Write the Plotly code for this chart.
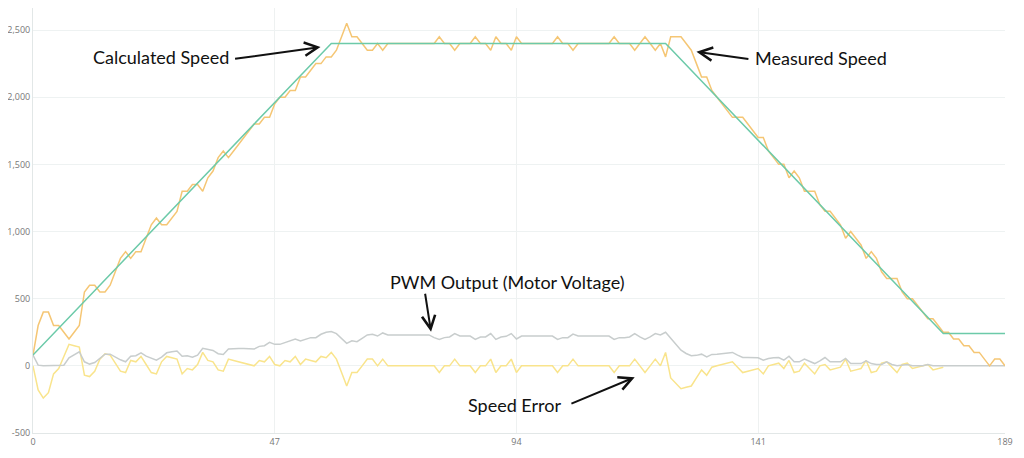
import plotly.graph_objects as go

# sample index (x axis)
sample_index = list(range(190))

calculated_speed = [
    80, 120, 160, 200, 240, 280, 320, 360, 400, 440,
    480, 520, 560, 600, 640, 680, 720, 760, 800, 840,
    880, 920, 960, 1000, 1040, 1080, 1120, 1160, 1200, 1240,
    1280, 1320, 1360, 1400, 1440, 1480, 1520, 1560, 1600, 1640,
    1680, 1720, 1760, 1800, 1840, 1880, 1920, 1960, 2000, 2040,
    2080, 2120, 2160, 2200, 2240, 2280, 2320, 2360, 2400, 2400,
    2400, 2400, 2400, 2400, 2400, 2400, 2400, 2400, 2400, 2400,
    2400, 2400, 2400, 2400, 2400, 2400, 2400, 2400, 2400, 2400,
    2400, 2400, 2400, 2400, 2400, 2400, 2400, 2400, 2400, 2400,
    2400, 2400, 2400, 2400, 2400, 2400, 2400, 2400, 2400, 2400,
    2400, 2400, 2400, 2400, 2400, 2400, 2400, 2400, 2400, 2400,
    2400, 2400, 2400, 2400, 2400, 2400, 2400, 2400, 2400, 2400,
    2400, 2400, 2400, 2400, 2360, 2320, 2280, 2240, 2200, 2160,
    2120, 2080, 2040, 2000, 1960, 1920, 1880, 1840, 1800, 1760,
    1720, 1680, 1640, 1600, 1560, 1520, 1480, 1440, 1400, 1360,
    1320, 1280, 1240, 1200, 1160, 1120, 1080, 1040, 1000, 960,
    920, 880, 840, 800, 760, 720, 680, 640, 600, 560,
    520, 480, 440, 400, 360, 320, 280, 240, 240, 240,
    240, 240, 240, 240, 240, 240, 240, 240, 240, 240,
]

measured_speed = [
    80, 300, 400, 400, 300, 300, 250, 200, 250, 300,
    550, 600, 600, 550, 550, 600, 700, 800, 850, 800,
    850, 850, 950, 1050, 1100, 1050, 1050, 1100, 1150, 1300,
    1300, 1350, 1350, 1300, 1400, 1450, 1550, 1600, 1550, 1600,
    1650, 1700, 1750, 1800, 1800, 1850, 1850, 1950, 2000, 2000,
    2050, 2050, 2150, 2150, 2200, 2250, 2250, 2300, 2300, 2350,
    2450, 2550, 2450, 2450, 2400, 2350, 2350, 2400, 2350, 2400,
    2400, 2400, 2400, 2400, 2400, 2400, 2400, 2400, 2400, 2450,
    2400, 2400, 2350, 2400, 2400, 2400, 2450, 2400, 2400, 2350,
    2450, 2400, 2400, 2350, 2450, 2400, 2400, 2400, 2400, 2400,
    2400, 2400, 2450, 2400, 2400, 2350, 2400, 2400, 2400, 2400,
    2400, 2400, 2400, 2450, 2400, 2400, 2400, 2350, 2400, 2450,
    2400, 2350, 2400, 2300, 2450, 2450, 2450, 2400, 2350, 2250,
    2150, 2150, 2050, 2000, 1950, 1900, 1850, 1850, 1850, 1800,
    1750, 1700, 1700, 1600, 1550, 1500, 1500, 1400, 1450, 1400,
    1300, 1300, 1300, 1200, 1150, 1150, 1100, 1050, 950, 1000,
    950, 900, 800, 850, 800, 700, 650, 650, 650, 550,
    500, 500, 450, 400, 350, 350, 300, 250, 250, 200,
    200, 150, 150, 100, 100, 50, 0, 50, 50, 0,
]

pwm_output = [
    80, 5, 0, 0, 0, 0, 5, 60, 85, 105,
    30, 13, 25, 55, 87, 87, 65, 45, 30, 72,
    75, 97, 72, 55, 42, 65, 97, 105, 110, 72,
    75, 65, 80, 130, 120, 115, 90, 85, 125, 130,
    130, 130, 128, 125, 145, 150, 175, 160, 160, 175,
    185, 200, 185, 200, 210, 210, 235, 250, 255, 240,
    200, 167, 187, 180, 205, 230, 235, 222, 245, 230,
    230, 230, 230, 230, 230, 230, 230, 230, 210, 197,
    210, 215, 240, 222, 222, 222, 197, 215, 215, 240,
    197, 215, 220, 240, 200, 222, 222, 222, 222, 222,
    222, 222, 197, 210, 210, 236, 222, 222, 222, 222,
    222, 222, 222, 197, 210, 210, 215, 240, 215, 197,
    215, 240, 230, 250, 205, 155, 117, 92, 75, 78,
    87, 67, 85, 87, 92, 92, 100, 80, 62, 62,
    60, 60, 42, 55, 60, 62, 42, 72, 30, 30,
    50, 35, 17, 37, 62, 30, 30, 30, 55, 17,
    17, 17, 37, 17, 10, 10, 30, 10, 0, 5,
    10, 0, 0, 0, 10, 0, 0, 0, 0, 0,
    0, 0, 0, 0, 0, 0, 0, 0, 0, 0,
]

speed_error = [
    0, -180, -240, -200, -60, -20, 70, 160, 150, 140,
    -70, -80, -40, 50, 90, 80, 20, -40, -50, 40,
    30, 70, 10, -50, -60, 30, 70, 60, 50, -60,
    -20, -30, 10, 100, 40, 30, -30, -40, 50, 40,
    30, 20, 10, 0, 40, 30, 70, 10, 0, 40,
    30, 70, 10, 50, 40, 30, 70, 60, 100, 50,
    -50, -150, -50, -50, 0, 50, 50, 0, 50, 0,
    0, 0, 0, 0, 0, 0, 0, 0, 0, -50,
    0, 0, 50, 0, 0, 0, -50, 0, 0, 50,
    -50, 0, 0, 50, -50, 0, 0, 0, 0, 0,
    0, 0, -50, 0, 0, 50, 0, 0, 0, 0,
    0, 0, 0, -50, 0, 0, 0, 50, 0, -50,
    0, 50, 0, 100, -90, -130, -170, -160, -150, -90,
    -30, -70, -10, 0, 10, 20, 30, -10, -50, -40,
    -30, -20, -60, 0, 10, 20, -20, 40, -50, -40,
    20, -20, -60, 0, 10, -30, -20, -10, 50, -40,
    -30, -20, 40, -50, -40, 20, 30, -10, -50, 10,
    20, -20, -10, 0, 10, -30, -20, -10,
]

y_tick_values = [-500, 0, 500, 1000, 1500, 2000, 2500]
y_tick_labels = ["-500", "0", "500", "1,000", "1,500", "2,000", "2,500"]
x_tick_values = [0, 47, 94, 141, 189]
x_tick_labels = ["0", "47", "94", "141", "189"]

fig = go.Figure()
fig.add_trace(go.Scatter(x=sample_index[:len(speed_error)], y=speed_error, mode="lines",
                         line=dict(color="#f9e48c", width=1.5), name="Speed Error"))
fig.add_trace(go.Scatter(x=sample_index, y=pwm_output, mode="lines",
                         line=dict(color="#c8cdcd", width=1.5), name="PWM Output"))
fig.add_trace(go.Scatter(x=sample_index, y=measured_speed, mode="lines",
                         line=dict(color="#f5c674", width=1.5), name="Measured Speed"))
fig.add_trace(go.Scatter(x=sample_index, y=calculated_speed, mode="lines",
                         line=dict(color="#6ccaa9", width=1.5), name="Calculated Speed"))

text_font = dict(family="Lato, Open Sans, sans-serif", size=18, color="#111111")

# text labels
labels = [
    ("Calculated Speed", 24.8, 2299),
    ("Measured Speed", 153.2, 2292),
    ("PWM Output (Motor Voltage)", 92.2, 625),
    ("Speed Error", 93.6, -294),
]
for txt, lx, ly in labels:
    fig.add_annotation(x=lx, y=ly, xref="x", yref="y", text=txt, showarrow=False,
                       font=text_font, xanchor="center", yanchor="middle")

# arrows: (head x, head y, tail x, tail y)
arrows = [
    (55.9, 2374, 39.0, 2284),
    (129.0, 2338, 139.4, 2282),
    (77.4, 254, 76.2, 548),
    (117.0, -85, 104.4, -286),
]
for hx, hy, tx, ty in arrows:
    fig.add_annotation(x=hx, y=hy, ax=tx, ay=ty, xref="x", yref="y", axref="x", ayref="y",
                       text="", showarrow=True, arrowhead=5, arrowsize=1.3, arrowwidth=2,
                       arrowcolor="#111111", standoff=0, startstandoff=0)

fig.update_layout(
    width=1008, height=442,
    margin=dict(l=25, r=11, t=0, b=17),
    paper_bgcolor="white", plot_bgcolor="white",
    showlegend=False,
    font=dict(family="Open Sans, sans-serif", size=9, color="#777777"),
)
fig.update_xaxes(range=[0, 189], tickvals=x_tick_values, ticktext=x_tick_labels,
                 showgrid=True, gridcolor="#eef1f1", gridwidth=1, zeroline=False,
                 showline=True, linecolor="#e2e7e7", linewidth=1, automargin=False,
                 tickfont=dict(size=9, color="#777777"), ticks="")
fig.update_yaxes(range=[-500, 2664], tickvals=y_tick_values, ticktext=y_tick_labels,
                 showgrid=True, gridcolor="#eef2f2", gridwidth=1, zeroline=False,
                 showline=True, linecolor="#e2e7e7", linewidth=1, automargin=False,
                 tickfont=dict(size=9, color="#777777"), ticks="")

fig.write_html("out.html", config={"displayModeBar": False})
